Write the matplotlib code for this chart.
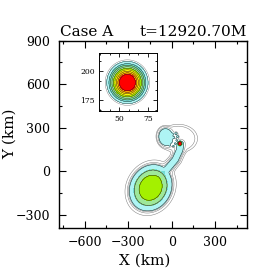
import numpy as np
import matplotlib
matplotlib.use("Agg")
import matplotlib.pyplot as plt
from matplotlib.ticker import MultipleLocator

plt.rcParams['font.family'] = ['DejaVu Serif']

# contour levels (log10 density) and band colours
levels = [-3.3, -2.9, -2.5, -1.9, -1.2, -0.8, -0.5, -0.2, 0.3, 0.8, 1.3, 1.8, 3.0]
band_colors = ['white', 'white', 'white', '#aef4f4', '#74dcd4', '#7ade98',
               '#9ee89a', '#a4f000', '#ffff00', '#ffd200', '#ffa000', '#ff0000']
# levels that get a line in the big panel
main_line_levels = [-3.3, -2.9, -2.5, -1.9, -0.5, -0.2]

# big blob (remnant), tilted ellipse
blob_center = (-145, -115)
blob_radii = [0, 80, 114, 114.5, 115, 135, 148, 153, 160, 172, 240]
blob_levels = [0.15, -0.2, -0.5, -0.8, -1.2, -1.6, -1.9, -2.5, -2.9, -3.3, -5.0]

# compact star
star_center = (57, 190)
star_radii = [0, 7, 8.3, 9.6, 10.9, 12.2, 13.5, 14.8, 16.1, 18, 18.7, 19.5, 20.5, 30]
star_levels = [2.6, 1.8, 1.3, 0.8, 0.3, -0.2, -0.5, -0.8, -1.2, -1.9, -2.5, -2.9, -3.3, -5.0]

# tidal tail from blob to star
tail_x = [-90, -30, 25, 55, 60]
tail_y = [-40, 15, 80, 145, 185]
tail_dist = [0, 22, 28, 34, 44, 70]
tail_levels = [-1.4, -1.9, -2.5, -2.9, -3.3, -6.0]

# faint envelope around the star
lobe_center = (45, 225)
lobe_radii = [0, 0.85, 1.0, 1.15, 1.5]
lobe_levels = [-2.7, -2.75, -2.95, -3.4, -5.0]

# cyan debris patch left of the star
patch_center = (-40, 235)
patch_radii = [0, 0.8, 1.0, 1.1, 1.3, 1.6]
patch_levels = [-1.4, -1.6, -1.9, -2.5, -2.9, -4.5]

# small debris clumps
debris_x = [-5, 15, 30, 12, -15, 35, 5, 25, 40]
debris_y = [205, 232, 258, 172, 180, 212, 255, 190, 238]
debris_size = [7, 6, 7, 5, 6, 5, 6, 5, 6]
debris_peak = [-1.5, -1.6, -1.5, -1.4, -1.6, -1.5, -1.6, -1.5, -1.6]


def ellipse_level(X, Y, center, radii, lev, sx=1.0, sy=1.0, angle=0.0):
    c, s = np.cos(np.radians(angle)), np.sin(np.radians(angle))
    u = (X - center[0]) * c + (Y - center[1]) * s
    v = -(X - center[0]) * s + (Y - center[1]) * c
    return np.interp(np.hypot(u / sx, v / sy), radii, lev)


def polyline_dist(X, Y, px, py):
    d = np.full(X.shape, np.inf)
    for i in range(len(px) - 1):
        ax_, ay_, bx, by = px[i], py[i], px[i + 1], py[i + 1]
        dx, dy = bx - ax_, by - ay_
        t = np.clip(((X - ax_) * dx + (Y - ay_) * dy) / (dx * dx + dy * dy), 0, 1)
        d = np.minimum(d, np.hypot(X - ax_ - t * dx, Y - ay_ - t * dy))
    return d


def main_field(X, Y):
    parts = [
        ellipse_level(X, Y, blob_center, blob_radii, blob_levels, 1.12, 0.95, 60),
        ellipse_level(X, Y, star_center, star_radii, star_levels),
        np.interp(polyline_dist(X, Y, tail_x, tail_y), tail_dist, tail_levels),
        ellipse_level(X, Y, lobe_center, lobe_radii, lobe_levels, 115, 85),
        ellipse_level(X, Y, patch_center, patch_radii, patch_levels, 48, 58, 10),
    ]
    for x0, y0, sz, pk in zip(debris_x, debris_y, debris_size, debris_peak):
        parts.append(ellipse_level(X, Y, (x0, y0), [0, 1, 2, 4],
                                   [pk, -1.9, -3.0, -5.0], sz, sz))
    return np.log10(sum(10.0 ** p for p in parts))


def draw(ax, X, Y, Z, lw, line_levels):
    ax.contourf(X, Y, Z, levels=levels, colors=band_colors)
    line_cols = ['#7a7a7a' if l <= -2.5 else '#1a1a1a' for l in line_levels]
    ax.contour(X, Y, Z, levels=line_levels, colors=line_cols, linewidths=lw)


fig = plt.figure(figsize=(2.7, 2.7), dpi=100)
ax = fig.add_axes([0.217, 0.157, 0.698, 0.692])

x = np.linspace(-780, 520, 651)
y = np.linspace(-390, 900, 646)
X, Y = np.meshgrid(x, y)
draw(ax, X, Y, main_field(X, Y), 0.35, main_line_levels)

ax.set_xlim(-780, 520)
ax.set_ylim(-390, 900)
ax.xaxis.set_minor_locator(MultipleLocator(150))
ax.yaxis.set_minor_locator(MultipleLocator(150))
ax.tick_params(which='both', direction='in', top=True, right=True, width=0.8)
ax.tick_params(which='major', length=5, labelsize=9, pad=6)
ax.tick_params(which='minor', length=2.5)
ax.set_xticks([-600, -300, 0, 300])
ax.set_xticklabels(['\u2212600', '\u2212300', '0', '300'])
ax.set_yticks([-300, 0, 300, 600, 900])
ax.set_yticklabels(['\u2212300', '0', '300', '600', '900'])
for sp in ax.spines.values():
    sp.set_linewidth(1.0)

ax.text(0.01, 1.025, 'Case A', transform=ax.transAxes, fontsize=11,
        ha='left', va='baseline')
ax.text(1.0, 1.025, 't=12920.70M', transform=ax.transAxes, fontsize=11,
        ha='right', va='baseline')
fig.text(145 / 270, 1 - 261 / 270, 'X (km)', fontsize=11, ha='center', va='center')
fig.text(10 / 270, 1 - 134 / 270, 'Y (km)', fontsize=11, ha='center', va='center',
         rotation=90)

# inset zoom on the star
axi = fig.add_axes([0.366, 0.590, 0.216, 0.2126])
xi = np.linspace(32, 83, 256)
yi = np.linspace(166, 215, 246)
Xi, Yi = np.meshgrid(xi, yi)
Zi = np.log10(10.0 ** ellipse_level(Xi, Yi, star_center, star_radii, star_levels)
              + 10.0 ** -2.75)
draw(axi, Xi, Yi, Zi, 0.3, levels[:-1])
axi.set_xlim(32, 83)
axi.set_ylim(166, 215)
axi.set_xticks([50, 75])
axi.set_yticks([175, 200])
axi.xaxis.set_minor_locator(MultipleLocator(25 / 3))
axi.yaxis.set_minor_locator(MultipleLocator(25 / 3))
axi.tick_params(which='both', direction='in', top=True, right=True, width=0.6)
axi.tick_params(which='major', length=3, labelsize=5.5, pad=3)
axi.tick_params(which='minor', length=1.5)
for sp in axi.spines.values():
    sp.set_linewidth(0.7)

fig.savefig('out.png', dpi=100)
